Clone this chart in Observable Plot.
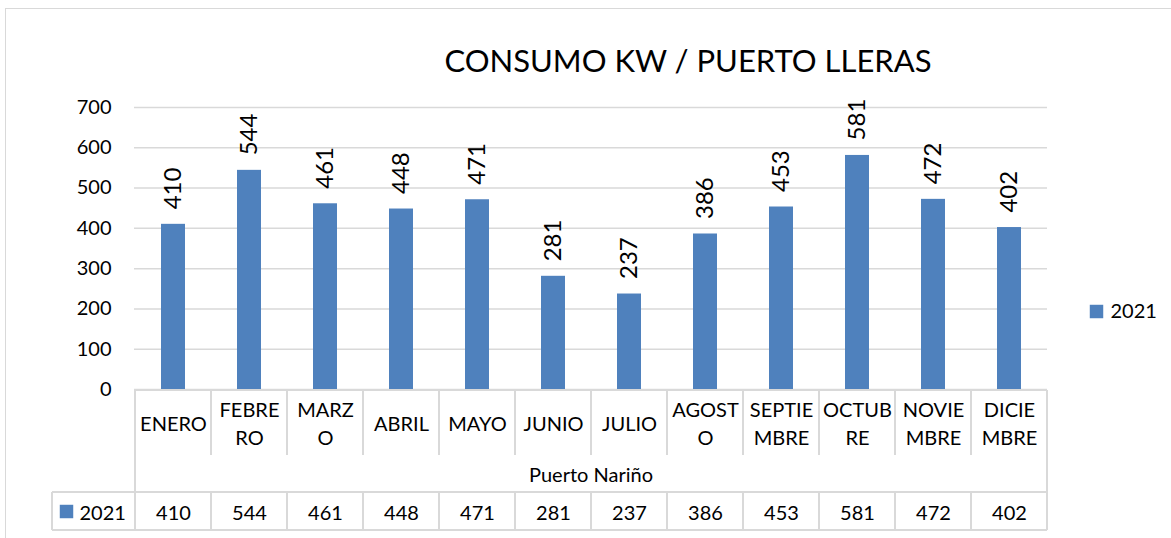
<!DOCTYPE html>
<html><head><meta charset="utf-8">
<script src="https://cdn.jsdelivr.net/npm/d3@7"></script>
<script src="https://cdn.jsdelivr.net/npm/@observablehq/plot@0.6"></script>
<style>
html,body{margin:0;padding:0;background:#fff;width:1171px;height:538px;overflow:hidden;}
#wrap{position:relative;width:1171px;height:538px;}
#border{position:absolute;left:5px;top:8px;width:1200px;height:600px;border-left:1.5px solid #d9d9d9;border-top:1.5px solid #d9d9d9;}
#chart{position:absolute;left:0;top:0;}
</style></head><body>
<div id="wrap"><div id="border"></div><div id="chart"></div></div>
<script>
const title = "CONSUMO KW / PUERTO LLERAS";
const months = ["ENERO","FEBRERO","MARZO","ABRIL","MAYO","JUNIO","JULIO","AGOSTO","SEPTIEMBRE","OCTUBRE","NOVIEMBRE","DICIEMBRE"];
const monthLabels = ["ENERO","FEBRE\nRO","MARZ\nO","ABRIL","MAYO","JUNIO","JULIO","AGOST\nO","SEPTIE\nMBRE","OCTUB\nRE","NOVIE\nMBRE","DICIE\nMBRE"];
const values2021 = [410,544,461,448,471,281,237,386,453,581,472,402];
const yTicks = [0,100,200,300,400,500,600,700];
const seriesName = "2021";
const groupLabel = "Puerto Nariño";
const barColor = "#4f81bd";
const lineColor = "#d9d9d9";

const data = months.map((m,i)=>({month:m,label:monthLabels[i],value:values2021[i]}));
const W=1171,H=538, mL=134, mR=124, mT=107, mB=149;

const chart = Plot.plot({
  width:W,height:H,marginLeft:mL,marginRight:mR,marginTop:mT,marginBottom:mB,
  style:{fontFamily:"Lato, 'Open Sans', sans-serif", fontSize:"20px", color:"#000", background:"transparent", overflow:"visible"},
  x:{domain:months, paddingInner:0.69, paddingOuter:0.345, axis:null},
  y:{domain:[0,700], axis:null},
  marks:[
    Plot.gridY(yTicks,{stroke:lineColor,strokeOpacity:1,strokeWidth:1.5}),
    Plot.axisY(yTicks,{tickSize:0,tickPadding:23,fontSize:20,label:null}),
    Plot.barY(data,{x:"month",y:"value",fill:barColor}),
    Plot.text(data,{x:"month",y:"value",text:d=>String(d.value),rotate:-90,textAnchor:"start",lineAnchor:"middle",dy:-15,fontSize:24,fill:"#000"}),
    Plot.text(data,{x:"month",text:"label",frameAnchor:"bottom",lineAnchor:"middle",dy:33,lineHeight:1.4,fontSize:20,fill:"#000"}),
    Plot.text([groupLabel],{text:d=>d,frameAnchor:"bottom",lineAnchor:"middle",dy:86,fontSize:20,fill:"#000"}),
    Plot.text(data,{x:"month",text:d=>String(d.value),frameAnchor:"bottom",lineAnchor:"middle",dy:124,fontSize:20,fill:"#000"}),
    Plot.dot([seriesName],{frameAnchor:"bottom-left",dx:-68,dy:122,symbol:"square",r:7.6,fill:barColor,stroke:null}),
    Plot.text([seriesName],{text:d=>d,frameAnchor:"bottom-left",lineAnchor:"middle",dx:-55,dy:124,textAnchor:"start",fontSize:20,fill:"#000"}),
    Plot.dot([seriesName],{frameAnchor:"right",dx:49,dy:63,symbol:"square",r:7.6,fill:barColor,stroke:null}),
    Plot.text([seriesName],{text:d=>d,frameAnchor:"right",lineAnchor:"middle",dx:63,dy:63,textAnchor:"start",fontSize:20,fill:"#000"}),
    Plot.text([title],{text:d=>d,frameAnchor:"top",lineAnchor:"middle",dx:97,dy:-45,fontSize:31,fill:"#000"})
  ]
});

// data-table grid lines derived from the x band scale
const xs = chart.scale("x");
const step = xs.step;
const x0 = xs.apply(months[0]) - (step - xs.bandwidth) / 2;
const xn = x0 + step * months.length;
const yb = H - mB + 1;
const g = d3.select(chart).insert("g", ":first-child")
  .attr("stroke", lineColor).attr("stroke-width", 2).attr("fill", "none");
const seg = (a,b,c,d) => g.append("line").attr("x1",a).attr("y1",b).attr("x2",c).attr("y2",d);
const labelRowBottom = yb + 65, groupRowBottom = yb + 102, valueRowBottom = yb + 140;
const legendCellLeft = x0 - 83;
seg(x0, yb, xn, yb);
seg(legendCellLeft, groupRowBottom, xn, groupRowBottom);
seg(legendCellLeft, valueRowBottom, xn, valueRowBottom);
seg(legendCellLeft, groupRowBottom, legendCellLeft, valueRowBottom);
for (let i = 0; i <= months.length; i++) {
  const xx = x0 + i * step;
  if (i === 0 || i === months.length) seg(xx, yb, xx, valueRowBottom);
  else { seg(xx, yb, xx, labelRowBottom); seg(xx, groupRowBottom, xx, valueRowBottom); }
}
document.getElementById("chart").appendChild(chart);
</script>
</body></html>
